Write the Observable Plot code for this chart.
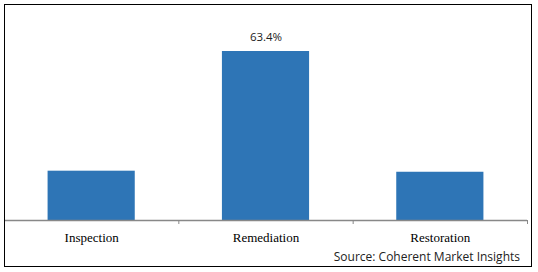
<!DOCTYPE html>
<html><head><meta charset="utf-8">
<script src="https://cdn.jsdelivr.net/npm/d3@7"></script>
<script src="https://cdn.jsdelivr.net/npm/@observablehq/plot@0.6"></script>
<style>
html,body{margin:0;padding:0;background:#fff;}
#wrap{position:relative;width:538px;height:272px;}
#border{position:absolute;left:4px;top:4px;width:526px;height:261px;border:1px solid #000;pointer-events:none;}
#src{position:absolute;right:18px;top:248px;font:12px "Open Sans",sans-serif;color:#222;}
</style></head>
<body>
<div id="wrap"><div id="border"></div><div id="src">Source: Coherent Market Insights</div></div>
<script>
const categories = ["Inspection", "Remediation", "Restoration"];
const values = [18.5, 63.4, 18.1];
const labels = ["", "63.4%", ""];

const data = categories.map((c, i) => ({cat: c, i, v: values[i], label: labels[i]}));

const chart = Plot.plot({
  width: 538,
  height: 272,
  marginLeft: 4,
  marginRight: 11,
  marginTop: 51,
  marginBottom: 52,
  x: {domain: [0, categories.length], axis: null},
  y: {domain: [0, 63.4], axis: null},
  marks: [
    Plot.rectY(data, {x1: d => d.i + 0.25, x2: d => d.i + 0.75, y: "v", fill: "#2e75b6"}),
    Plot.ruleY([0], {stroke: "#888", strokeWidth: 1.5}),
    Plot.axisX({ticks: [1, 2, 3], tickFormat: () => "", tickSize: 4, stroke: "#888", strokeOpacity: 1}),
    Plot.axisX({ticks: categories.map((c, i) => i + 0.5), tickFormat: t => categories[Math.floor(t)], tickSize: 0, tickPadding: 12, fontFamily: "Liberation Serif", fontSize: 13, fill: "#000"}),
    Plot.text(data.filter(d => d.label), {x: d => d.i + 0.5, y: "v", text: "label", dy: -14, fontFamily: "Open Sans", fontSize: 11.5, fill: "#222"})
  ]
});
chart.style.position = "absolute";
chart.style.left = "0";
chart.style.top = "0";
document.getElementById("wrap").prepend(chart);
</script>
</body></html>
